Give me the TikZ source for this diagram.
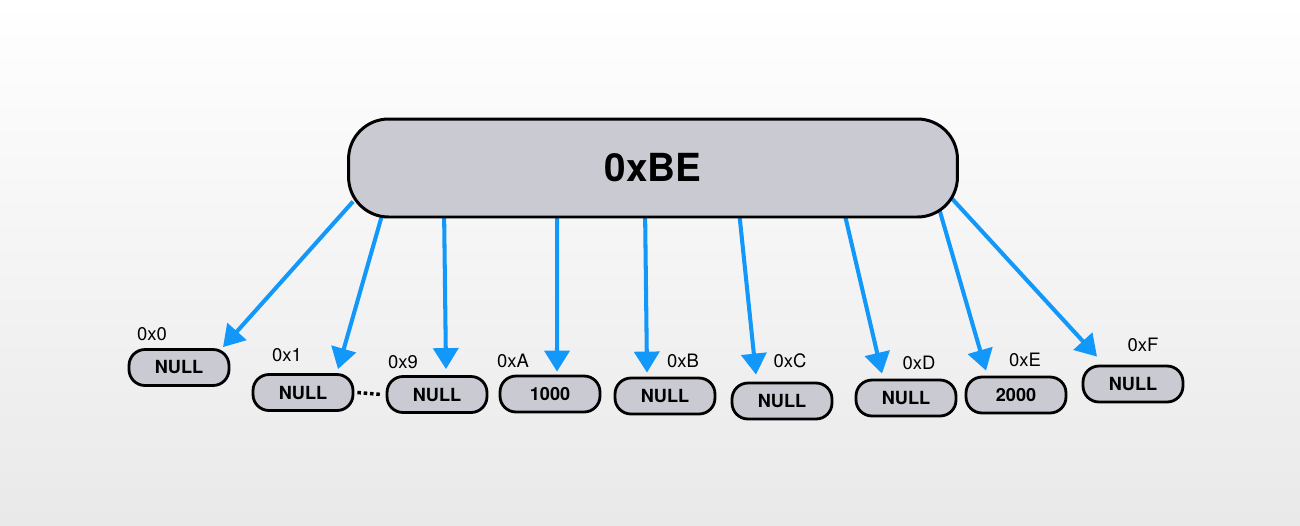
\documentclass[tikz,border=0pt]{standalone}
\usepackage{fontspec}
\setmainfont{TeX Gyre Heros}
\usetikzlibrary{arrows.meta,calc,backgrounds}

\definecolor{nodegray}{RGB}{201,202,210}
\definecolor{ptrblue}{RGB}{18,152,250}
\definecolor{bggray}{RGB}{233,233,233}

\tikzset{
  slot/.style={draw=black, line width=1.6pt, fill=nodegray, rounded corners=0.32cm,
    minimum width=2cm, minimum height=0.72cm, inner sep=0pt,
    font=\fontsize{10.3}{12}\selectfont\bfseries},
  idx/.style={inner sep=0pt, font=\fontsize{10.5}{12}\selectfont},
  ptr/.style={draw=ptrblue, line width=2.3pt, -{Triangle[width=0.5cm,length=0.42cm]}},
}

\begin{document}
\begin{tikzpicture}[x=0.02cm,y=-0.02cm]
\useasboundingbox (0,0) rectangle (1300,525);

% Bucket array
\node[draw=black, line width=1.7pt, fill=nodegray, rounded corners=0.8cm,
  minimum width=12.18cm, minimum height=1.96cm,
  font=\fontsize{22}{26}\selectfont\bfseries] (be) at (653,168) {0xBE};

% Slots
\node[slot] (n0) at (179,367.5) {NULL};
\node[slot] (n1) at (303,392.5) {NULL};
\node[slot] (n9) at (437,394.5) {NULL};
\node[slot] (nA) at (550,394) {1000};
\node[slot] (nB) at (665,396) {NULL};
\node[slot] (nC) at (782,401) {NULL};
\node[slot] (nD) at (906,398) {NULL};
\node[slot] (nE) at (1016,395) {2000};
\node[slot] (nF) at (1133,384) {NULL};

% Slot indices
\node[idx] (l0) at (152,334) {0x0};
\node[idx] (l1) at (287,355) {0x1};
\node[idx] (l9) at (403,362) {0x9};
\node[idx] (lA) at (513,361) {0xA};
\node[idx] (lB) at (683,361) {0xB};
\node[idx] (lC) at (790,361) {0xC};
\node[idx] (lD) at (919,363) {0xD};
\node[idx] (lE) at (1025,360) {0xE};
\node[idx] (lF) at (1143,345) {0xF};

% Skipped slots
\draw[line width=2pt, dash pattern=on 2pt off 1.6pt]
  ($(n1.east)+(3,0)$) -- ($(n9.west)+(-4,0)$);

\begin{scope}[on background layer]
  % Background
  \shade[top color=white, middle color=white, bottom color=bggray] (0,0) rectangle (1300,525);

  % Pointers
  \draw[ptr] ($(be.south west)+(6,-17)$) -- ($(n0.north)+(44,-1)$);
  \draw[ptr] ($(be.south west)+(36,-7)$) -- ($(n1.north)+(35,-4)$);
  \draw[ptr] ($(be.south west)+(97,-7)$) -- ($(n9.north)+(9,-6)$);
  \draw[ptr] ($(be.south west)+(210,-7)$) -- ($(nA.north)+(7,-3)$);
  \draw[ptr] ($(be.south west)+(298,-7)$) -- ($(nB.north)+(-18,-4)$);
  \draw[ptr] ($(be.south west)+(392,-7)$) -- ($(nC.north)+(-26,-7)$);
  \draw[ptr] ($(be.south west)+(497,-7)$) -- ($(nD.north)+(-24,-5)$);
  \draw[ptr] ($(be.south east)+(-19,-7)$) -- ($(nE.north)+(-30,-5)$);
  \draw[ptr] ($(be.south east)+(-8,-21)$) -- ($(nF.north)+(-36,-8)$);
\end{scope}
\end{tikzpicture}
\end{document}
